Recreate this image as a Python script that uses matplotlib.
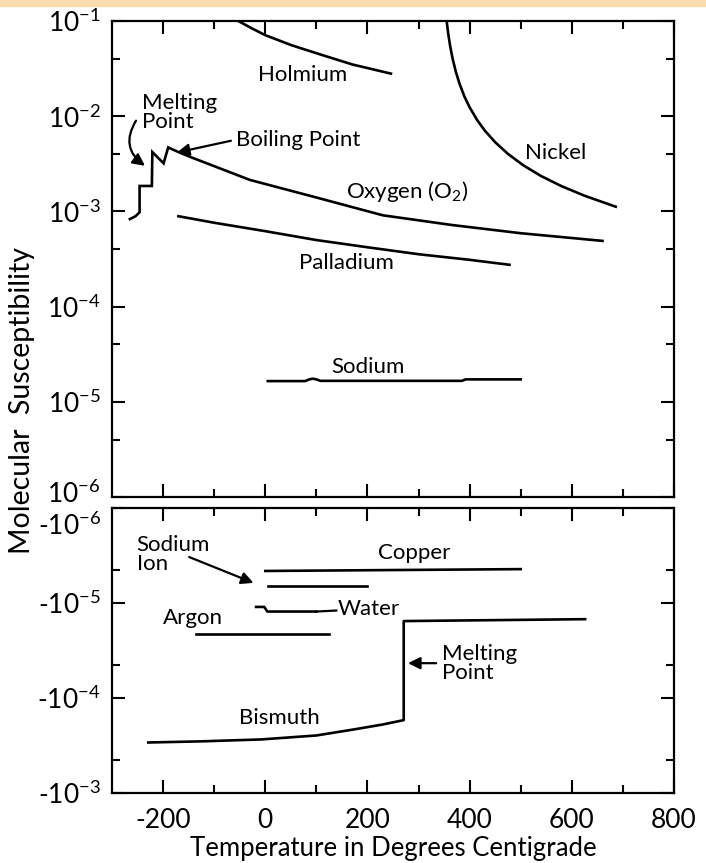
import numpy as np
import matplotlib.pyplot as plt
from matplotlib.patches import Rectangle
from matplotlib.transforms import ScaledTranslation

plt.rcParams['font.family'] = ['Lato', 'DejaVu Sans']
plt.rcParams['mathtext.fontset'] = 'custom'
plt.rcParams['mathtext.rm'] = 'Lato'
plt.rcParams['mathtext.it'] = 'Lato'

# paramagnetic substances (top panel), molecular susceptibility vs temperature (C)
holmium_t = [-60, -25, 0, 50, 105, 170, 246]
holmium_chi = [0.105, 0.083, 0.071, 0.056, 0.045, 0.035, 0.028]

nickel_t = [355, 358, 362, 367, 373, 380, 390, 400, 415, 430, 450, 475, 505, 540, 580, 625, 686]
nickel_chi = [0.100, 0.0741, 0.0540, 0.0395, 0.0293, 0.0221, 0.0160, 0.0124, 0.00906,
              0.00703, 0.00533, 0.00402, 0.00305, 0.00235, 0.00184, 0.00146, 0.00112]

oxygen_t = [-265, -254, -246, -246, -222, -221, -199, -190, -170, -145, -30, 100, 230, 365, 500, 660]
oxygen_chi = [8.3e-4, 8.9e-4, 9.8e-4, 1.85e-3, 1.85e-3, 4.2e-3, 3.2e-3, 4.7e-3, 4.2e-3, 3.7e-3,
              2.14e-3, 1.4e-3, 9.1e-4, 7.2e-4, 5.9e-4, 4.9e-4]

palladium_t = [-170, -100, 0, 100, 200, 300, 400, 478]
palladium_chi = [8.9e-4, 7.6e-4, 6.2e-4, 5.0e-4, 4.2e-4, 3.55e-4, 3.1e-4, 2.75e-4]

sodium_t = [5, 78, 86, 93, 100, 108, 385, 392, 500]
sodium_chi = [1.65e-5, 1.65e-5, 1.72e-5, 1.75e-5, 1.72e-5, 1.66e-5, 1.66e-5, 1.72e-5, 1.72e-5]

# diamagnetic substances (bottom panel)
copper_t = [0, 500]
copper_chi = [-4.6e-6, -4.4e-6]

sodium_ion_t = [5, 200]
sodium_ion_chi = [-6.6e-6, -6.6e-6]

water_t = [-18, -2, 4, 100]
water_chi = [-1.10e-5, -1.10e-5, -1.23e-5, -1.23e-5]

argon_t = [-135, 125]
argon_chi = [-2.14e-5, -2.14e-5]

bismuth_t = [-229, -125, -8, 100, 174, 230, 271, 271, 626]
bismuth_chi = [-2.94e-4, -2.86e-4, -2.73e-4, -2.48e-4, -2.14e-4, -1.9e-4, -1.71e-4, -1.55e-5, -1.48e-5]

x_major = [-200, 0, 200, 400, 600, 800]
x_labels = ['-200', '0', '200', '400', '600', '800']
x_minor = [-100, 100, 300, 500, 700]
top_major = [1e-1, 1e-2, 1e-3, 1e-4, 1e-5, 1e-6]
top_labels = ['$10^{-1}$', '$10^{-2}$', '$10^{-3}$', '$10^{-4}$', '$10^{-5}$', '$10^{-6}$']
top_minor = [4e-2, 4e-3, 4e-4, 4e-5, 4e-6]
bot_major = [1e-6, 1e-5, 1e-4, 1e-3]
bot_labels = ['-$10^{-6}$', '-$10^{-5}$', '-$10^{-4}$', '-$10^{-3}$']
bot_minor = [4.5e-6, 4.5e-5, 4.5e-4]

fig = plt.figure(figsize=(7.06, 8.63), dpi=100)
fig.patches.append(Rectangle((0, 1 - 6 / 863), 1, 6 / 863, transform=fig.transFigure,
                             color='#fbdcae', zorder=0))

ax1 = fig.add_axes([112 / 706, 1 - 497 / 863, 562 / 706, 476 / 863])
ax2 = fig.add_axes([112 / 706, 1 - 793 / 863, 562 / 706, 285 / 863])

lw = 1.9
for t, c in [(holmium_t, holmium_chi), (nickel_t, nickel_chi), (oxygen_t, oxygen_chi),
             (palladium_t, palladium_chi), (sodium_t, sodium_chi)]:
    ax1.plot(t, c, color='black', lw=lw, solid_joinstyle='miter')

for t, c in [(copper_t, copper_chi), (sodium_ion_t, sodium_ion_chi), (water_t, water_chi),
             (argon_t, argon_chi), (bismuth_t, bismuth_chi)]:
    ax2.plot(t, np.abs(c), color='black', lw=lw)

ax1.set_yscale('log')
ax1.set_ylim(1e-6, 1e-1)
ax2.set_yscale('log')
ax2.set_ylim(1e-3, 1e-6)

for ax in (ax1, ax2):
    ax.set_xlim(-300, 800)
    ax.set_xticks(x_major)
    ax.set_xticks(x_minor, minor=True)
    ax.tick_params(which='both', direction='in', top=True, right=True, width=1.5,
                   labelsize=19, pad=8)
    ax.tick_params(which='major', length=9.5)
    ax.tick_params(which='minor', length=5.5)
    for s in ax.spines.values():
        s.set_linewidth(1.6)

ax1.set_yticks(top_major, top_labels)
ax1.set_yticks(top_minor, minor=True)
ax1.yaxis.set_minor_formatter(plt.NullFormatter())
ax1.set_xticklabels([])
ax2.set_yticks(bot_major, bot_labels)
ax2.set_yticks(bot_minor, minor=True)
ax2.yaxis.set_minor_formatter(plt.NullFormatter())
ax2.set_xticklabels(x_labels)
ax2.tick_params(axis='x', pad=11)

# keep the two labels at the panel join apart, as in the original
for lab in ax1.get_yticklabels():
    if lab.get_text() == '$10^{-6}$':
        lab.set_transform(lab.get_transform() + ScaledTranslation(0, 4 / 72, fig.dpi_scale_trans))
for lab in ax2.get_yticklabels():
    if lab.get_text() == '-$10^{-6}$':
        lab.set_transform(lab.get_transform() + ScaledTranslation(0, -11 / 72, fig.dpi_scale_trans))

fs = 16
ax1.text(74, 0.027, 'Holmium', fontsize=fs, ha='center', va='center')
ax1.text(568, 4.1e-3, 'Nickel', fontsize=fs, ha='center', va='center')
ax1.text(277, 1.62e-3, 'Oxygen (O$_2$)', fontsize=fs, ha='center', va='center')
ax1.text(158, 2.9e-4, 'Palladium', fontsize=fs, ha='center', va='center')
ax1.text(201, 2.34e-5, 'Sodium', fontsize=fs, ha='center', va='center')
ax1.text(-242, 0.011, 'Melting\nPoint', fontsize=fs, ha='left', va='center', linespacing=0.95)
ax1.text(-58, 5.6e-3, 'Boiling Point', fontsize=fs, ha='left', va='center')
ax1.annotate('', xy=(-178, 4.1e-3), xytext=(-62, 5.6e-3),
             arrowprops=dict(arrowstyle='-|>', color='black', lw=1.6, mutation_scale=18))
ax1.annotate('', xy=(-231, 2.9e-3), xytext=(-250, 9.5e-3),
             arrowprops=dict(arrowstyle='-|>', color='black', lw=1.6, mutation_scale=18,
                             connectionstyle='arc3,rad=0.5'))

ax2.text(291, 2.95e-6, 'Copper', fontsize=fs, ha='center', va='center')
ax2.text(-252, 3.1e-6, 'Sodium\nIon', fontsize=fs, ha='left', va='center', linespacing=0.95)
ax2.annotate('', xy=(-18, 6.3e-6), xytext=(-154, 3.2e-6),
             arrowprops=dict(arrowstyle='-|>', color='black', lw=1.6, mutation_scale=18))
ax2.text(141, 1.15e-5, 'Water', fontsize=fs, ha='left', va='center')
ax2.plot([100, 139], [1.23e-5, 1.2e-5], color='black', lw=1.6)
ax2.text(-141, 1.45e-5, 'Argon', fontsize=fs, ha='center', va='center')
ax2.text(27, 1.62e-4, 'Bismuth', fontsize=fs, ha='center', va='center')
ax2.text(346, 4.3e-5, 'Melting\nPoint', fontsize=fs, ha='left', va='center', linespacing=0.95)
ax2.annotate('', xy=(274, 4.3e-5), xytext=(340, 4.3e-5),
             arrowprops=dict(arrowstyle='-|>', color='black', lw=1.6, mutation_scale=18))

ax2.set_xlabel('Temperature in Degrees Centigrade', fontsize=18.5, labelpad=2)
fig.text(22 / 706, 1 - 400 / 863, 'Molecular  Susceptibility', fontsize=20.5, rotation=90,
         ha='center', va='center')

fig.savefig('out.png', dpi=100)
